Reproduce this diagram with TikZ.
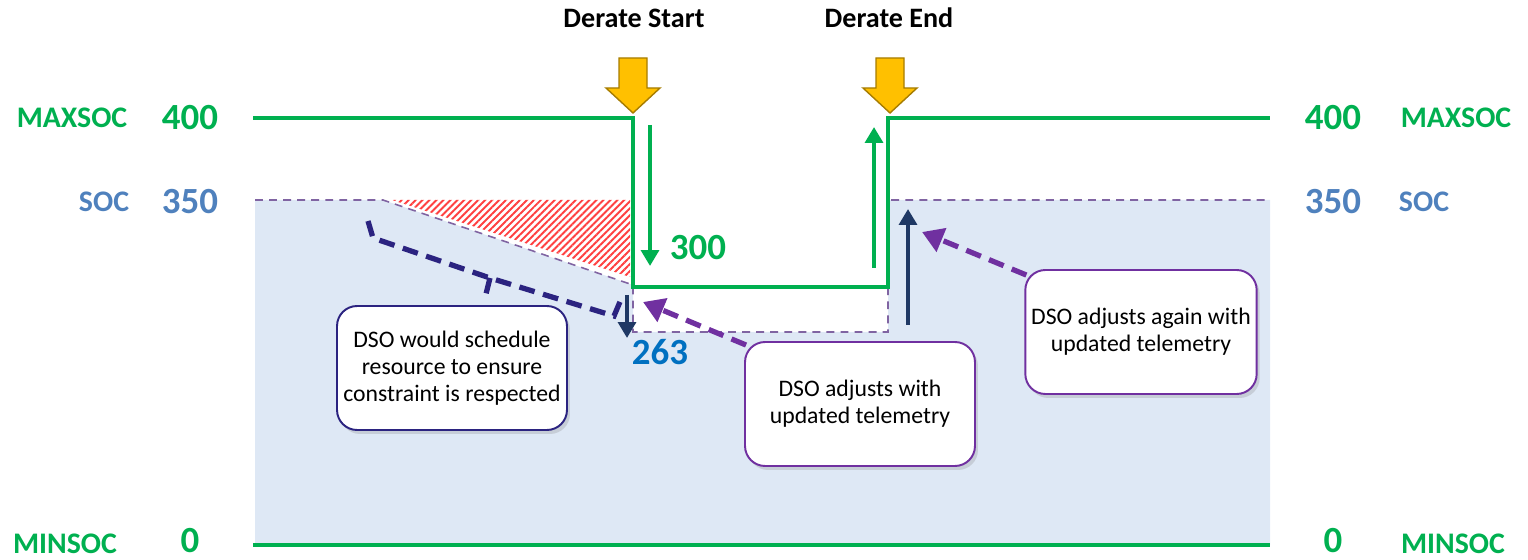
\documentclass[tikz,border=0pt]{standalone}
\usepackage{fontspec}
\setmainfont{Carlito}
\usepackage{xcolor}
\usetikzlibrary{positioning,arrows.meta,patterns.meta,shadows}

\definecolor{socgreen}{HTML}{00B050}
\definecolor{socblue}{HTML}{4F81BD}
\definecolor{valblue}{HTML}{0070C0}
\definecolor{areablue}{HTML}{DEE8F5}
\definecolor{dashpurple}{HTML}{8064A2}
\definecolor{dsopurple}{HTML}{7030A0}
\definecolor{dsonavy}{HTML}{2B2380}
\definecolor{arrownavy}{HTML}{1F3864}
\definecolor{deratefill}{HTML}{FFC000}
\definecolor{deratedraw}{HTML}{A67C00}

\begin{document}
\begin{tikzpicture}[x=0.02cm,y=-0.02cm,
  levelname/.style={font=\fontsize{17}{20}\selectfont\bfseries},
  levelvalue/.style={font=\fontsize{21}{24}\selectfont\bfseries},
  dsobox/.style={draw,fill=white,line width=1.1pt,rounded corners=0.4cm,
    minimum width=4.6cm,minimum height=2.48cm,align=center,
    font=\fontsize{13.5}{15.5}\selectfont,
    drop shadow={opacity=0.25,shadow xshift=0.06cm,shadow yshift=-0.08cm}},
  dsoarrow/.style={line width=3pt,dash pattern=on 9pt off 5pt,
    -{Triangle[length=12pt,width=14pt]}},
  socarrow/.style={line width=2.4pt,-{Triangle[length=9pt,width=10pt]}},
  derate/.style={fill=deratefill,draw=deratedraw,line width=0.8pt,line join=miter}]
  \useasboundingbox (0,0) rectangle (1528,560);

  % area below SOC
  \fill[areablue] (255,200) -- (383,200) -- (633,285) -- (633,332) -- (888,332)
    -- (888,200) -- (1270,200) -- (1270,545) -- (255,545) -- cycle;
  \fill[pattern={Lines[angle=45,distance=2.8pt,line width=1.1pt]},pattern color=red!75]
    (392,200) -- (630,200) -- (630,277) -- cycle;
  \draw[dashpurple,line width=0.9pt,dash pattern=on 4.5pt off 3.5pt]
    (255,200) -- (383,200) -- (633,285) -- (633,332) -- (888,332) -- (888,200) -- (1270,200);

  % MAXSOC and MINSOC
  \draw[socgreen,line width=1.9pt] (253,118) -- (633,118) -- (633,287) -- (888,287)
    -- (888,118) -- (1270,118);
  \draw[socgreen,line width=1.9pt] (253,545) -- (1270,545);

  \node[levelname,text=socgreen] (maxsocL) at (72,118) {MAXSOC};
  \node[levelvalue,text=socgreen] (maxvalL) at (190,118) {400};
  \node[levelname,text=socblue] (socL) at (104,202) {SOC};
  \node[levelvalue,text=socblue] (socvalL) at (190,202) {350};
  \node[levelname,text=socgreen,inner sep=1pt] (minsocL) at (65,544) {MINSOC};
  \node[levelvalue,text=socgreen,inner sep=0pt] (minvalL) at (190,541) {0};

  \node[levelvalue,text=socgreen] (maxvalR) at (1333,118) {400};
  \node[levelname,text=socgreen] (maxsocR) at (1456,118) {MAXSOC};
  \node[levelvalue,text=socblue] (socvalR) at (1333,202) {350};
  \node[levelname,text=socblue] (socR) at (1424,202) {SOC};
  \node[levelvalue,text=socgreen,inner sep=0pt] (minvalR) at (1333,541) {0};
  \node[levelname,text=socgreen,inner sep=1pt] (minsocR) at (1453,544) {MINSOC};

  % derate markers
  \node[font=\fontsize{16}{19}\selectfont\bfseries] (startlbl) at (634,18) {Derate Start};
  \node[font=\fontsize{16}{19}\selectfont\bfseries] (endlbl) at (889,18) {Derate End};
  \foreach \ax in {633,890}
    \filldraw[derate] (\ax-14,58) -- (\ax+14,58) -- (\ax+14,88) -- (\ax+27,88)
      -- (\ax,113) -- (\ax-27,88) -- (\ax-14,88) -- cycle;

  % limit changes
  \coordinate (downtop) at (650,125);
  \coordinate (downbot) at (650,266);
  \coordinate (upbot) at (874,268);
  \coordinate (uptop) at (874,127);
  \draw[socarrow,socgreen] (downtop) -- (downbot);
  \draw[socarrow,socgreen] (upbot) -- (uptop);
  \node[levelvalue,text=socgreen] (val300) at (698,248) {300};

  \coordinate (droptop) at (627,295);
  \coordinate (dropbot) at (627,338);
  \coordinate (risebot) at (908,325);
  \coordinate (risetop) at (908,209);
  \draw[socarrow,arrownavy] (droptop) -- (dropbot);
  \draw[socarrow,arrownavy] (risebot) -- (risetop);
  \node[levelvalue,text=valblue] (val263) at (660,352) {263};

  % DSO notes
  \node[dsobox,draw=dsonavy] (schedule) at (452,368)
    {DSO would schedule\\resource to ensure\\constraint is respected};
  \node[dsobox,draw=dsopurple] (adjust) at (860,404)
    {DSO adjusts with\\updated telemetry};
  \node[dsobox,draw=dsopurple] (adjustagain) at (1141,332)
    {DSO adjusts again with\\updated telemetry};

  \coordinate (adjusttip) at (643,302);
  \coordinate (againtip) at (922,232);
  \draw[dsoarrow,dsopurple] (adjust.north west) ++(2,4) -- (adjusttip);
  \draw[dsoarrow,dsopurple] (adjustagain.north west) ++(2,6) -- (againtip);

  \draw[dsonavy,line width=3pt,dash pattern=on 9pt off 5pt]
    (368,221) -- (373,238) -- (490,278) -- (614,316) -- (622,297)
    (490,278) -- (485,298);
\end{tikzpicture}
\end{document}
